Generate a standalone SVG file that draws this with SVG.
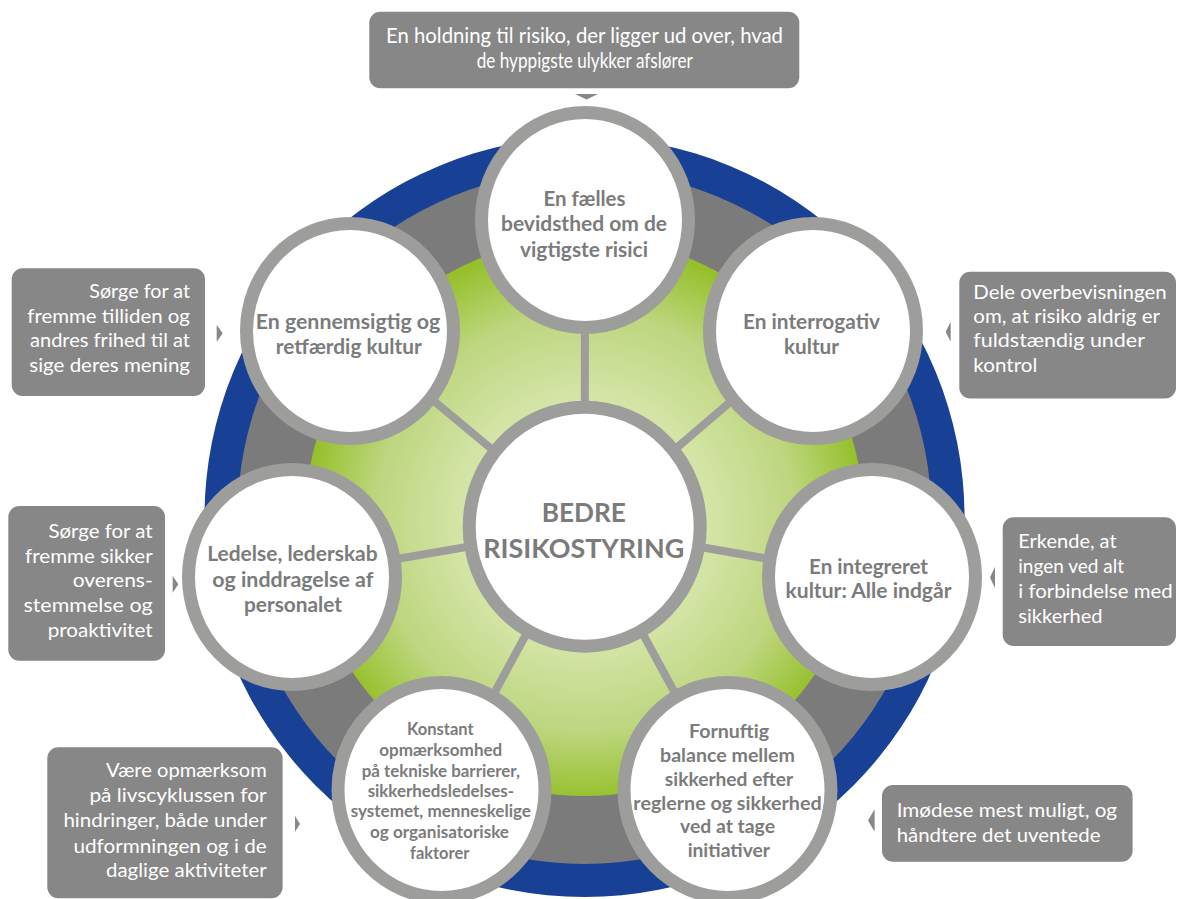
<svg xmlns="http://www.w3.org/2000/svg" width="1178" height="899" viewBox="0 0 1178 899">
<defs>
<radialGradient id="gr" gradientUnits="userSpaceOnUse" cx="585" cy="522" r="280">
<stop offset="0" stop-color="#e2edc6"/>
<stop offset="0.45" stop-color="#d4e4a6"/>
<stop offset="0.75" stop-color="#bdd67f"/>
<stop offset="1" stop-color="#95c02a"/>
</radialGradient>
<style>
.node{fill:#ffffff;stroke:#9d9d9c;stroke-width:13}
.spoke{stroke:#9d9d9c;stroke-width:8;fill:none}
.box{fill:#878787}
.ptr{fill:#878787}
.ct{font-family:Lato,"Open Sans",sans-serif;font-weight:700;fill:#7b7b7b;text-anchor:middle}
.c20{font-size:20.5px}
.c27{font-size:27px}
.c16{font-size:16.5px}
.c18{font-size:18.5px}
.bt{font-family:Lato,"Open Sans",sans-serif;font-weight:400;fill:#ffffff;font-size:19.5px}
.tb{font-size:20.5px}
.m{text-anchor:middle}
.e{text-anchor:end}
</style>
</defs>
<rect width="1178" height="899" fill="#ffffff"/>
<g id="rings">
<circle cx="584.5" cy="517" r="380" fill="#184094"/>
<circle cx="584.5" cy="517" r="347" fill="#7b7b7b"/>
<circle cx="584.5" cy="517" r="279" fill="url(#gr)"/>
</g>
<g id="connectors">
<line class="spoke" x1="584.7" y1="526.7" x2="585" y2="220"/>
<line class="spoke" x1="584.7" y1="526.7" x2="350" y2="331"/>
<line class="spoke" x1="584.7" y1="526.7" x2="813" y2="331"/>
<line class="spoke" x1="584.7" y1="526.7" x2="292" y2="577"/>
<line class="spoke" x1="584.7" y1="526.7" x2="872" y2="577"/>
<line class="spoke" x1="584.7" y1="526.7" x2="441.5" y2="790"/>
<line class="spoke" x1="584.7" y1="526.7" x2="727.5" y2="790"/>
<polygon class="ptr" points="575,94 598,94 586.5,99.5"/>
<polygon class="ptr" points="216.7,325 216.7,341.7 222.7,333.3"/>
<polygon class="ptr" points="950.7,321.7 950.7,341.7 945.7,331.7"/>
<polygon class="ptr" points="172.7,576 172.7,592.7 178.3,584.3"/>
<polygon class="ptr" points="995,566.7 995,588.3 990,577.5"/>
<polygon class="ptr" points="295,816 295,831.7 300,824"/>
<polygon class="ptr" points="874.6,809.3 874.6,831.7 868,820.5"/>
</g>
<g id="node-top">
<ellipse class="node" cx="585" cy="220" rx="103.5" ry="107.5"/>
<text class="ct c20" x="584.5" y="205.5" textLength="82" lengthAdjust="spacingAndGlyphs">En fælles</text>
<text class="ct c20" x="584" y="231" textLength="166" lengthAdjust="spacingAndGlyphs">bevidsthed om de</text>
<text class="ct c20" x="584" y="256.5" textLength="128" lengthAdjust="spacingAndGlyphs">vigtigste risici</text>
</g>
<g id="node-topleft">
<ellipse class="node" cx="350" cy="331" rx="103.5" ry="107.5"/>
<text class="ct c20" x="348" y="328.6" textLength="184.6" lengthAdjust="spacingAndGlyphs">En gennemsigtig og</text>
<text class="ct c20" x="348.8" y="353.5" textLength="146" lengthAdjust="spacingAndGlyphs">retfærdig kultur</text>
</g>
<g id="node-topright">
<ellipse class="node" cx="813" cy="331" rx="103.5" ry="107.5"/>
<text class="ct c20" x="811.5" y="328.6" textLength="137" lengthAdjust="spacingAndGlyphs">En interrogativ</text>
<text class="ct c20" x="811.5" y="353.5" textLength="55" lengthAdjust="spacingAndGlyphs">kultur</text>
</g>
<g id="node-left">
<ellipse class="node" cx="292" cy="577" rx="103.5" ry="107.5"/>
<text class="ct c20" x="292.4" y="561" textLength="170.5" lengthAdjust="spacingAndGlyphs">Ledelse, lederskab</text>
<text class="ct c20" x="292.8" y="587" textLength="161" lengthAdjust="spacingAndGlyphs">og inddragelse af</text>
<text class="ct c20" x="293" y="612" textLength="98" lengthAdjust="spacingAndGlyphs">personalet</text>
</g>
<g id="node-right">
<ellipse class="node" cx="872" cy="577" rx="103.5" ry="107.5"/>
<text class="ct c20" x="868.5" y="573.5" textLength="119" lengthAdjust="spacingAndGlyphs">En integreret</text>
<text class="ct c20" x="868.5" y="598" textLength="166" lengthAdjust="spacingAndGlyphs">kultur: Alle indgår</text>
</g>
<g id="node-bottomleft">
<ellipse class="node" cx="441.5" cy="790" rx="103.5" ry="107.5"/>
<text class="ct c16" x="440.3" y="735" textLength="66.7" lengthAdjust="spacingAndGlyphs">Konstant</text>
<text class="ct c16" x="440.8" y="755.7" textLength="123" lengthAdjust="spacingAndGlyphs">opmærksomhed</text>
<text class="ct c16" x="440.8" y="776.7" textLength="158.3" lengthAdjust="spacingAndGlyphs">på tekniske barrierer,</text>
<text class="ct c16" x="440.8" y="796.7" textLength="146.3" lengthAdjust="spacingAndGlyphs">sikkerhedsledelses-</text>
<text class="ct c16" x="440.8" y="817.3" textLength="180.3" lengthAdjust="spacingAndGlyphs">systemet, menneskelige</text>
<text class="ct c16" x="439.5" y="838.3" textLength="139" lengthAdjust="spacingAndGlyphs">og organisatoriske</text>
<text class="ct c16" x="439.7" y="859" textLength="59.3" lengthAdjust="spacingAndGlyphs">faktorer</text>
</g>
<g id="node-bottomright">
<ellipse class="node" cx="727.5" cy="790" rx="103.5" ry="107.5"/>
<text class="ct c18" x="729" y="738.3" textLength="80" lengthAdjust="spacingAndGlyphs">Fornuftig</text>
<text class="ct c18" x="727.5" y="761.7" textLength="135" lengthAdjust="spacingAndGlyphs">balance mellem</text>
<text class="ct c18" x="729" y="785.7" textLength="128.3" lengthAdjust="spacingAndGlyphs">sikkerhed efter</text>
<text class="ct c18" x="727.5" y="810" textLength="188.3" lengthAdjust="spacingAndGlyphs">reglerne og sikkerhed</text>
<text class="ct c18" x="727.5" y="833.3" textLength="95" lengthAdjust="spacingAndGlyphs">ved at tage</text>
<text class="ct c18" x="728.8" y="857.3" textLength="82.3" lengthAdjust="spacingAndGlyphs">initiativer</text>
</g>
<g id="node-center">
<ellipse class="node" cx="584.7" cy="526.7" rx="115.5" ry="119.5"/>
<text class="ct c27" x="583.8" y="521.7" textLength="84.3" lengthAdjust="spacingAndGlyphs">BEDRE</text>
<text class="ct c27" x="583.8" y="557.7" textLength="201" lengthAdjust="spacingAndGlyphs">RISIKOSTYRING</text>
</g>
<g id="callout-top">
<rect class="box" x="369.3" y="11.7" width="430" height="76.6" rx="11"/>
<text class="bt tb m" x="584.5" y="43.3" textLength="397" lengthAdjust="spacingAndGlyphs">En holdning til risiko, der ligger ud over, hvad</text>
<text class="bt tb m" x="584.7" y="68.3" textLength="216" lengthAdjust="spacingAndGlyphs">de hyppigste ulykker afslører</text>
</g>
<g id="callout-topleft">
<rect class="box" x="11.7" y="268.3" width="193.3" height="127.7" rx="11"/>
<text class="bt e" x="190" y="298.3" textLength="100.7" lengthAdjust="spacingAndGlyphs">Sørge for at</text>
<text class="bt e" x="190" y="322.7" textLength="162.7" lengthAdjust="spacingAndGlyphs">fremme tilliden og</text>
<text class="bt e" x="190" y="347.3" textLength="160" lengthAdjust="spacingAndGlyphs">andres frihed til at</text>
<text class="bt e" x="190" y="371.7" textLength="160.7" lengthAdjust="spacingAndGlyphs">sige deres mening</text>
</g>
<g id="callout-topright">
<rect class="box" x="959.3" y="271.7" width="216.7" height="126.7" rx="11"/>
<text class="bt" x="973.3" y="299.3" textLength="193.3" lengthAdjust="spacingAndGlyphs">Dele overbevisningen</text>
<text class="bt" x="973.3" y="323.3" textLength="186.7" lengthAdjust="spacingAndGlyphs">om, at risiko aldrig er</text>
<text class="bt" x="973.3" y="347.3" textLength="171.7" lengthAdjust="spacingAndGlyphs">fuldstændig under</text>
<text class="bt" x="973.3" y="371.7" textLength="64" lengthAdjust="spacingAndGlyphs">kontrol</text>
</g>
<g id="callout-left">
<rect class="box" x="8.3" y="506" width="156.7" height="154.7" rx="11"/>
<text class="bt e" x="152.7" y="537.7" textLength="104.3" lengthAdjust="spacingAndGlyphs">Sørge for at</text>
<text class="bt e" x="152.7" y="562.7" textLength="127.7" lengthAdjust="spacingAndGlyphs">fremme sikker</text>
<text class="bt e" x="152.7" y="587.3" textLength="80" lengthAdjust="spacingAndGlyphs">overens-</text>
<text class="bt e" x="152.7" y="612.3" textLength="129.3" lengthAdjust="spacingAndGlyphs">stemmelse og</text>
<text class="bt e" x="152.7" y="636.7" textLength="105" lengthAdjust="spacingAndGlyphs">proaktivitet</text>
</g>
<g id="callout-right">
<rect class="box" x="1002.7" y="517.3" width="173.3" height="128.7" rx="11"/>
<text class="bt" x="1018.3" y="548.3" textLength="98.3" lengthAdjust="spacingAndGlyphs">Erkende, at</text>
<text class="bt" x="1018.3" y="573.3" textLength="105.7" lengthAdjust="spacingAndGlyphs">ingen ved alt</text>
<text class="bt" x="1018.3" y="598.3" textLength="154.3" lengthAdjust="spacingAndGlyphs">i forbindelse med</text>
<text class="bt" x="1018.3" y="622.7" textLength="84.3" lengthAdjust="spacingAndGlyphs">sikkerhed</text>
</g>
<g id="callout-bottomleft">
<rect class="box" x="47.3" y="747.3" width="235.3" height="151" rx="11"/>
<text class="bt e" x="266.7" y="776.7" textLength="160.7" lengthAdjust="spacingAndGlyphs">Være opmærksom</text>
<text class="bt e" x="266.7" y="801.7" textLength="177.3" lengthAdjust="spacingAndGlyphs">på livscyklussen for</text>
<text class="bt e" x="266.7" y="827.3" textLength="203.3" lengthAdjust="spacingAndGlyphs">hindringer, både under</text>
<text class="bt e" x="266.7" y="852.7" textLength="193.3" lengthAdjust="spacingAndGlyphs">udformningen og i de</text>
<text class="bt e" x="266.7" y="877.3" textLength="160.7" lengthAdjust="spacingAndGlyphs">daglige aktiviteter</text>
</g>
<g id="callout-bottomright">
<rect class="box" x="882" y="785" width="250.6" height="76.7" rx="11"/>
<text class="bt" x="896.7" y="816.7" textLength="220.4" lengthAdjust="spacingAndGlyphs">Imødese mest muligt, og</text>
<text class="bt" x="896.7" y="841.7" textLength="203.8" lengthAdjust="spacingAndGlyphs">håndtere det uventede</text>
</g>
</svg>
